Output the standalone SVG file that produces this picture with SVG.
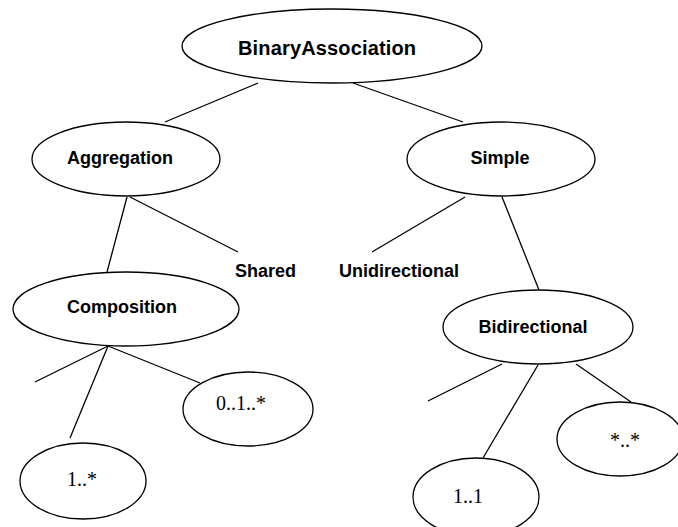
<svg xmlns="http://www.w3.org/2000/svg" width="678" height="527" viewBox="0 0 678 527">
  <style>
    .node ellipse { fill: #ffffff; stroke: #000000; stroke-width: 1.3; }
    .lbl { font-family: "Liberation Sans", Arial, sans-serif; font-weight: bold; font-size: 18px; fill: #000000; }
    .lbl.big { font-size: 20px; }
    .mult { font-family: "Liberation Serif", "Times New Roman", serif; font-size: 20px; fill: #000000; }
    #connectors line { stroke: #000000; stroke-width: 1.3; }
  </style>
  <rect width="678" height="527" fill="#ffffff"/>

  <g id="connectors">
    <line x1="258" y1="83" x2="165" y2="122"/>
    <line x1="353" y1="83" x2="463" y2="122"/>
    <line x1="127" y1="197" x2="107" y2="272"/>
    <line x1="130" y1="197" x2="238" y2="252"/>
    <line x1="465" y1="197" x2="372" y2="252"/>
    <line x1="502" y1="197" x2="539" y2="290"/>
    <line x1="108" y1="346" x2="35" y2="382"/>
    <line x1="108" y1="346" x2="70" y2="438"/>
    <line x1="108" y1="346" x2="200" y2="383"/>
    <line x1="502" y1="364" x2="428" y2="401"/>
    <line x1="538" y1="365" x2="483" y2="458"/>
    <line x1="576" y1="364" x2="631" y2="402"/>
  </g>

  <g id="binary-association" class="node">
    <ellipse cx="332" cy="46" rx="150" ry="37"/>
    <text class="lbl big" x="327" y="55" text-anchor="middle" textLength="178" lengthAdjust="spacing">BinaryAssociation</text>
  </g>

  <g id="aggregation" class="node">
    <ellipse cx="126" cy="159" rx="94" ry="37"/>
    <text class="lbl" x="120" y="164" text-anchor="middle">Aggregation</text>
  </g>

  <g id="simple" class="node">
    <ellipse cx="501" cy="159" rx="94" ry="37"/>
    <text class="lbl" x="500" y="164" text-anchor="middle">Simple</text>
  </g>

  <g id="shared">
    <text class="lbl" x="235" y="277">Shared</text>
  </g>

  <g id="unidirectional">
    <text class="lbl" x="339" y="277">Unidirectional</text>
  </g>

  <g id="composition" class="node">
    <ellipse cx="126" cy="309" rx="113" ry="37"/>
    <text class="lbl" x="122" y="313" text-anchor="middle">Composition</text>
  </g>

  <g id="bidirectional" class="node">
    <ellipse cx="538" cy="327" rx="95" ry="37"/>
    <text class="lbl" x="533" y="333" text-anchor="middle">Bidirectional</text>
  </g>

  <g id="comp-zero-one-many" class="node">
    <ellipse cx="248" cy="409" rx="65" ry="37"/>
    <text class="mult" x="241" y="410" text-anchor="middle">0..1..*</text>
  </g>

  <g id="comp-one-many" class="node">
    <ellipse cx="83" cy="481" rx="63" ry="38"/>
    <text class="mult" x="82" y="486" text-anchor="middle">1..*</text>
  </g>

  <g id="bidir-one-one" class="node">
    <ellipse cx="476" cy="497" rx="63" ry="39"/>
    <text class="mult" x="468" y="503" text-anchor="middle">1..1</text>
  </g>

  <g id="bidir-many-many" class="node">
    <ellipse cx="620" cy="439" rx="63" ry="37"/>
    <text class="mult" x="625" y="447" text-anchor="middle">*..*</text>
  </g>
</svg>
